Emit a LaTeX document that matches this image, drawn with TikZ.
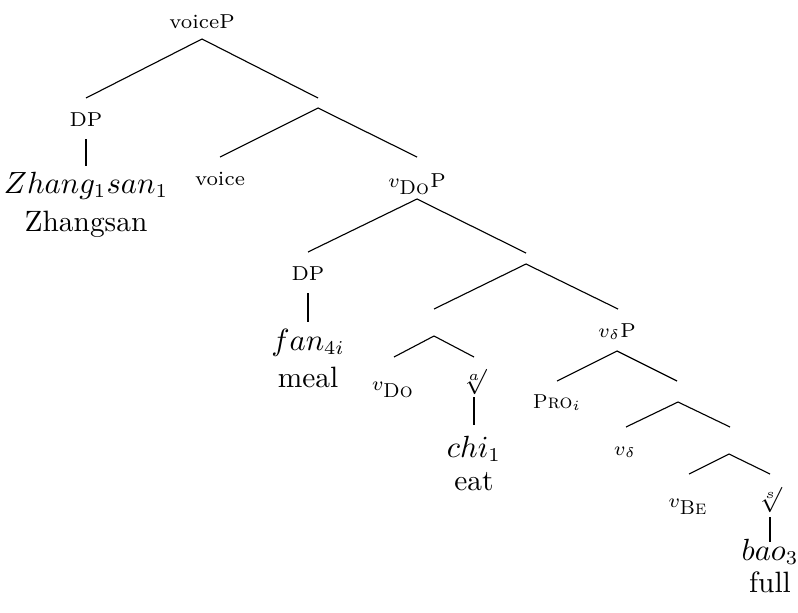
\documentclass[tikz,border=0pt]{standalone}
\begin{document}
\begin{tikzpicture}[x=0.3571pt,y=-0.3571pt,
  lab/.style={anchor=base,inner sep=0pt,font=\fontsize{7.2}{8.5}\selectfont},
  leaf/.style={anchor=base,inner sep=0pt,font=\fontsize{10.5}{12.5}\selectfont},
  rootlab/.style={anchor=base,inner sep=0pt,font=\fontsize{9}{11}\selectfont},
  br/.style={line width=0.4pt}]
\useasboundingbox (0,0) rectangle (798,612);
% labels
\node[lab] (voiceP) at (202,28) {voiceP};
\node[lab] (dp1) at (86,126) {DP};
\node[leaf] (zh) at (86,193) {$Zhang_1san_1$};
\node[leaf] (zhg) at (86,231) {Zhangsan};
\node[lab] (voice) at (220,185) {voice};
\node[lab] (vdoP) at (417,187) {$v_{\textsc{Do}}$P};
\node[lab] (dp2) at (308,280) {DP};
\node[leaf] (fan) at (308,350) {$fan_{4i}$};
\node[leaf] (meal) at (308,387) {meal};
\node[lab] (vdo) at (393,390) {$v_{\textsc{Do}}$};
\node[rootlab] (roota) at (474,383) {$\sqrt[a]{}$};
\node[leaf] (chi) at (474,457) {$chi_1$};
\node[leaf] (eat) at (474,490) {eat};
\node[lab] (vdP) at (617,337) {$v_\delta$P};
\node[lab] (pro) at (557,408) {\textsc{Pro}$_i$};
\node[lab] (vd) at (625,455) {$v_\delta$};
\node[lab] (vbe) at (688,507) {$v_{\textsc{Be}}$};
\node[rootlab] (roots) at (770,501) {$\sqrt[s]{}$};
\node[leaf] (bao) at (770,560) {$bao_3$};
\node[leaf] (full) at (770,592) {full};
% branch points
\coordinate (r0) at (202,39);
\coordinate (dp1t) at (86,98);
\coordinate (b1t) at (318,98);
\coordinate (b1) at (318,108);
\coordinate (voicet) at (220,157);
\coordinate (vdoPt) at (417,157);
\coordinate (dp1b) at (86,139);
\coordinate (zht) at (86,166);
\coordinate (v0) at (417,199);
\coordinate (dp2t) at (308,252);
\coordinate (b2t) at (526,253);
\coordinate (dp2b) at (308,293);
\coordinate (fant) at (308,322);
\coordinate (b2) at (526,264);
\coordinate (b3t) at (434,309);
\coordinate (vdPt) at (618,309);
\coordinate (b3) at (434,336);
\coordinate (vdot) at (394,357);
\coordinate (roott) at (474,357);
\coordinate (rootb) at (474,397);
\coordinate (chit) at (474,425);
\coordinate (d0) at (617,351);
\coordinate (prot) at (557,381);
\coordinate (b4t) at (677,381);
\coordinate (b4) at (678,402);
\coordinate (vdt) at (626,427);
\coordinate (b5t) at (730,427);
\coordinate (b5) at (729,454);
\coordinate (vbet) at (689,474);
\coordinate (rootst) at (770,474);
\coordinate (rootsb) at (770,517);
\coordinate (baot) at (770,542);
% branches
\draw[br] (dp1t) -- (r0) -- (b1t);
\draw[br] (dp1b) -- (zht);
\draw[br] (voicet) -- (b1) -- (vdoPt);
\draw[br] (dp2t) -- (v0) -- (b2t);
\draw[br] (dp2b) -- (fant);
\draw[br] (b3t) -- (b2) -- (vdPt);
\draw[br] (vdot) -- (b3) -- (roott);
\draw[br] (rootb) -- (chit);
\draw[br] (prot) -- (d0) -- (b4t);
\draw[br] (vdt) -- (b4) -- (b5t);
\draw[br] (vbet) -- (b5) -- (rootst);
\draw[br] (rootsb) -- (baot);
\end{tikzpicture}
\end{document}
